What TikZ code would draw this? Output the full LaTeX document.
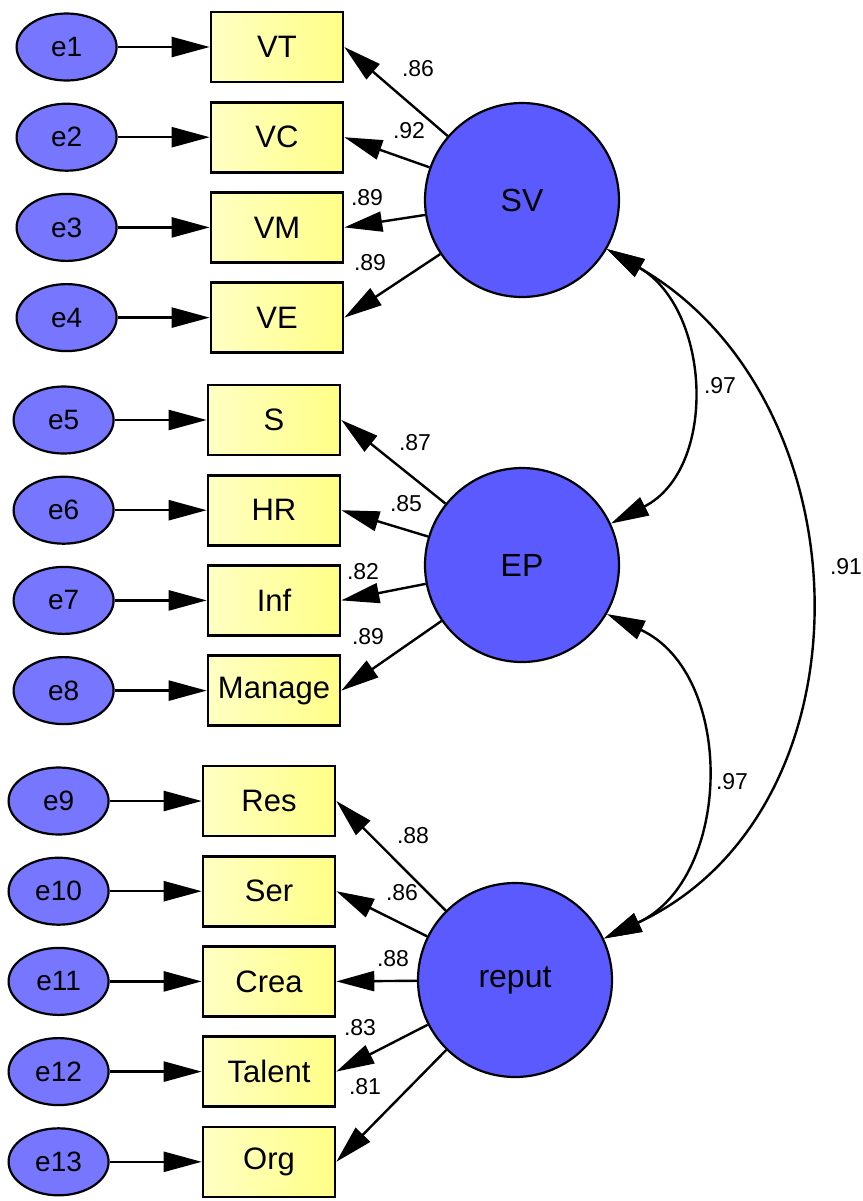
\documentclass[tikz,border=0pt]{standalone}
\usepackage{fontspec}
\setmainfont{Liberation Sans}
\usepackage{xcolor}
\usepackage{tikz}
\usetikzlibrary{positioning,shapes.geometric,arrows.meta}
\definecolor{errBlue}{RGB}{118,118,255}
\definecolor{latBlue}{RGB}{90,90,255}
\definecolor{boxYellow}{RGB}{255,255,135}
\definecolor{boxPale}{RGB}{255,255,195}
\tikzstyle{err}=[ellipse, draw=black, line width=1.1pt, fill=errBlue, minimum width=50pt, minimum height=33.5pt, inner sep=0pt, font=\fontsize{14}{16}\selectfont]
\tikzstyle{ind}=[rectangle, draw=black, line width=1.3pt, left color=boxPale, right color=boxYellow, minimum width=66pt, minimum height=35pt, inner sep=0pt, font=\fontsize{15.5}{18}\selectfont]
\tikzstyle{lat}=[circle, draw=black, line width=1.1pt, fill=latBlue, minimum size=97pt, inner sep=0pt, font=\fontsize{16}{18}\selectfont]
\tikzstyle{coef}=[inner sep=0pt, font=\fontsize{11.5}{13}\selectfont]
\tikzstyle{erArrow}=[-{Triangle[length=19pt,width=10pt]}, line width=1.2pt]
\tikzstyle{ldArrow}=[-{Triangle[length=19pt,width=10pt]}, line width=1.2pt]
\tikzstyle{cvArrow}=[{Triangle[length=19pt,width=10pt]}-{Triangle[length=19pt,width=10pt]}, line width=1.2pt, looseness=1.12]

\begin{document}
\begin{tikzpicture}[x=0.5pt, y=-0.5pt]
    \useasboundingbox (0,0) rectangle (863,1201);

    % indicators
    \node [style=ind] (VT) at (277, 47) {VT};
    \node [style=ind, below=8.8pt of VT] (VC) {VC};
    \node [style=ind, below=8.8pt of VC] (VM) {VM};
    \node [style=ind, below=8.8pt of VM] (VE) {VE};

    \node [style=ind] (S) at (274, 420) {S};
    \node [style=ind, below=8.8pt of S] (HR) {HR};
    \node [style=ind, below=8.8pt of HR] (Inf) {Inf};
    \node [style=ind, below=8.8pt of Inf] (Manage) {Manage};

    \node [style=ind] (Res) at (269, 801) {Res};
    \node [style=ind, below=8.8pt of Res] (Ser) {Ser};
    \node [style=ind, below=8.8pt of Ser] (Crea) {Crea};
    \node [style=ind, below=8.8pt of Crea] (Talent) {Talent};
    \node [style=ind, below=8.8pt of Talent] (Org) {Org};

    % errors
    \node [style=err, left=46pt of VT] (e1) {e1};
    \node [style=err, left=46pt of VC] (e2) {e2};
    \node [style=err, left=46pt of VM] (e3) {e3};
    \node [style=err, left=46pt of VE] (e4) {e4};
    \node [style=err, left=46pt of S] (e5) {e5};
    \node [style=err, left=46pt of HR] (e6) {e6};
    \node [style=err, left=46pt of Inf] (e7) {e7};
    \node [style=err, left=46pt of Manage] (e8) {e8};
    \node [style=err, left=46pt of Res] (e9) {e9};
    \node [style=err, left=46pt of Ser] (e10) {e10};
    \node [style=err, left=46pt of Crea] (e11) {e11};
    \node [style=err, left=46pt of Talent] (e12) {e12};
    \node [style=err, left=46pt of Org] (e13) {e13};

    % latent factors
    \node [style=lat] (SV) at (522, 200) {SV};
    \node [style=lat] (EP) at (522, 565) {EP};
    \node [style=lat] (reput) at (515, 980) {reput};

    \draw [style={erArrow}] (e1) -- (VT);
    \draw [style={erArrow}] (e2) -- (VC);
    \draw [style={erArrow}] (e3) -- (VM);
    \draw [style={erArrow}] (e4) -- (VE);
    \draw [style={erArrow}] (e5) -- (S);
    \draw [style={erArrow}] (e6) -- (HR);
    \draw [style={erArrow}] (e7) -- (Inf);
    \draw [style={erArrow}] (e8) -- (Manage);
    \draw [style={erArrow}] (e9) -- (Res);
    \draw [style={erArrow}] (e10) -- (Ser);
    \draw [style={erArrow}] (e11) -- (Crea);
    \draw [style={erArrow}] (e12) -- (Talent);
    \draw [style={erArrow}] (e13) -- (Org);

    %SV loadings
    \draw [style={ldArrow}] (SV) -- (VT.east);
    \draw [style={ldArrow}] (SV) -- (VC.east);
    \draw [style={ldArrow}] (SV) -- (VM.east);
    \draw [style={ldArrow}] (SV) -- (VE.east);
    \node [style=coef] (lVT) at (418, 69) {.86};
    \node [style=coef] (lVC) at (409, 131) {.92};
    \node [style=coef] (lVM) at (367, 198) {.89};
    \node [style=coef] (lVE) at (370, 263) {.89};

    %EP loadings
    \draw [style={ldArrow}] (EP) -- (S.east);
    \draw [style={ldArrow}] (EP) -- (HR.east);
    \draw [style={ldArrow}] (EP) -- (Inf.east);
    \draw [style={ldArrow}] (EP) -- (Manage.east);
    \node [style=coef] (lS) at (415, 443) {.87};
    \node [style=coef] (lHR) at (406, 504) {.85};
    \node [style=coef] (lInf) at (363, 572) {.82};
    \node [style=coef] (lManage) at (368, 637) {.89};

    %reput loadings
    \draw [style={ldArrow}] (reput) -- (Res.east);
    \draw [style={ldArrow}] (reput) -- (Ser.east);
    \draw [style={ldArrow}] (reput) -- (Crea.east);
    \draw [style={ldArrow}] (reput) -- (Talent.east);
    \draw [style={ldArrow}] (reput) -- (Org.east);
    \node [style=coef] (lRes) at (413, 836) {.88};
    \node [style=coef] (lSer) at (402, 893) {.86};
    \node [style=coef] (lCrea) at (393, 959) {.88};
    \node [style=coef] (lTalent) at (360, 1028) {.83};
    \node [style=coef] (lOrg) at (365, 1087) {.81};

    %covariances
    \draw [style={cvArrow}] (SV.-30) to[out=-30, in=27] (EP.25);
    \draw [style={cvArrow}] (EP.-30) to[out=-25, in=25] (reput.25);
    \draw [style={cvArrow}] (SV.-30) to[out=-30, in=25, looseness=1.12] (reput.25);
    \node [style=coef] (cSE) at (720, 386) {.97};
    \node [style=coef] (cER) at (732, 782) {.97};
    \node [style=coef] (cSR) at (846, 567) {.91};
\end{tikzpicture}
\end{document}
